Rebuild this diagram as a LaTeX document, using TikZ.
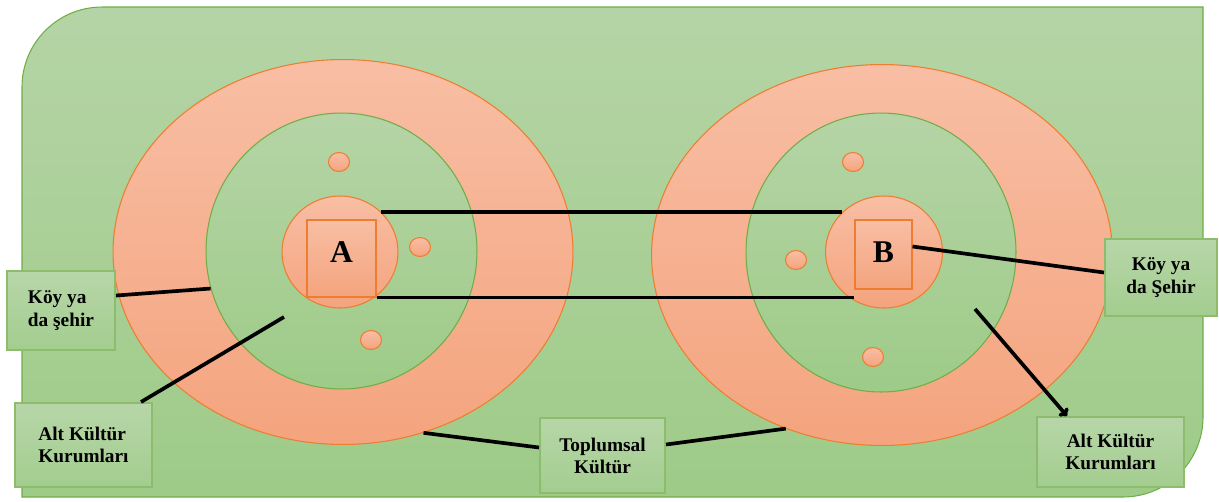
\documentclass[tikz,border=0pt]{standalone}
\usepackage{fontspec}
\setmainfont{Liberation Serif}
\usetikzlibrary{calc}
\usetikzlibrary{shapes}
\usetikzlibrary{arrows.meta}
\definecolor{bgtop}{RGB}{181,212,166}
\definecolor{bgbot}{RGB}{158,203,136}
\definecolor{ortop}{RGB}{248,190,164}
\definecolor{orbot}{RGB}{244,164,126}
\definecolor{orline}{RGB}{237,125,49}
\definecolor{grline}{RGB}{112,173,71}
\definecolor{boxtop}{RGB}{183,214,168}
\definecolor{boxbot}{RGB}{163,205,143}
\newcommand{\ringnode}[6]{\node[#1, minimum width=#5cm, minimum height=#6cm] (#2) at (#3,#4) {};}
\newcommand{\dotnode}[3]{\node[dot] (#1) at (#2,#3) {};}

\begin{document}
\begin{tikzpicture}[x=0.02cm,y=-0.02cm,
    ring/.style={ellipse, inner sep=0pt, draw=orline, line width=0.6pt, top color=ortop, bottom color=orbot},
    inner/.style={ellipse, inner sep=0pt, draw=grline, line width=0.6pt, top color=bgtop, bottom color=bgbot},
    dot/.style={ellipse, inner sep=0pt, draw=orline, line width=0.6pt, top color=ortop, bottom color=orbot, minimum width=0.42cm, minimum height=0.38cm},
    core/.style={rectangle, inner sep=0pt, draw=orline, line width=0.6pt, top color=ortop, bottom color=orbot, font=\bfseries\fontsize{18}{20}\selectfont},
    box/.style={rectangle, inner sep=0pt, draw=grline!80!white, line width=1.2pt, top color=boxtop, bottom color=boxbot, font=\bfseries\fontsize{11}{12.6}\selectfont},
    link/.style={line width=2.1pt, black}]
        \useasboundingbox (0,0) rectangle (1219,501);
        %background
        \path[draw=grline, line width=0.6pt, top color=bgtop, bottom color=bgbot]
            (22,497) -- (22,87) arc[start angle=180, end angle=90, radius=1.6cm]
            -- (1203,7) -- (1203,417) arc[start angle=0, end angle=-90, radius=1.6cm] -- cycle;

        %rings
        \ringnode{ring}{outerA}{343}{252}{9.2}{7.7}
        \ringnode{inner}{innerA}{341.5}{251}{5.42}{5.52}
        \ringnode{ring}{circA}{340}{252}{2.32}{2.24}
        \ringnode{ring}{outerB}{882}{255}{9.22}{7.62}
        \ringnode{inner}{innerB}{881}{252.5}{5.4}{5.58}
        \ringnode{ring}{circB}{884}{252}{2.34}{2.24}

        %cores
        \node[core, minimum width=1.38cm, minimum height=1.54cm, text depth=0.24cm] (sqA) at (341.5,258.5) {A};
        \node[core, minimum width=1.14cm, minimum height=1.38cm, text depth=0.08cm] (sqB) at (883.5,254.5) {B};

        %dots
        \dotnode{dA1}{339}{162}
        \dotnode{dA2}{420}{247}
        \dotnode{dA3}{371}{340}
        \dotnode{dB1}{853}{162}
        \dotnode{dB2}{796}{260}
        \dotnode{dB3}{873}{357}

        %boxes
        \node[box, align=left, minimum width=2.16cm, minimum height=1.58cm] (koyA) at (61,310.5) {K\"oy ya\\da \c{s}ehir};
        \node[box, align=left, minimum width=2.74cm, minimum height=1.68cm] (altA) at (83.5,445) {Alt K\"ult\"ur\\Kurumlar\i};
        \node[box, align=center, minimum width=2.5cm, minimum height=1.5cm] (topl) at (602.5,455.5) {Toplumsal\\K\"ult\"ur};
        \node[box, align=center, minimum width=2.94cm, minimum height=1.4cm] (altB) at (1110.5,452) {Alt K\"ult\"ur\\Kurumlar\i};
        \node[box, align=center, minimum width=2.24cm, minimum height=1.54cm] (koyB) at (1161,277.5) {K\"oy ya\\da \c{S}ehir};

        %edges
        \coordinate (pA) at (284,317);
        \coordinate (pB) at (975,309);
        \draw[link] (circA.north east) -- (circA.north east -| circB.north west);
        \draw[link] (sqA.south east) -- (sqA.south east -| sqB.west);
        \draw[link] ([yshift=0.16cm]sqB.east) -- ([yshift=0.1cm]koyB.west);
        \draw[link] ([yshift=0.3cm]koyA.east) -- (innerA.196);
        \draw[link] ([xshift=-0.24cm]altA.north east) -- (pA);
        \draw[link] (outerA.-66) -- ([yshift=0.16cm]topl.west);
        \draw[link] ([yshift=0.22cm]topl.east) -- (outerB.241);
        \draw[link, -{To[length=4pt,width=7pt]}] (pB) -- ([xshift=0.62cm]altB.north west);
\end{tikzpicture}
\end{document}
